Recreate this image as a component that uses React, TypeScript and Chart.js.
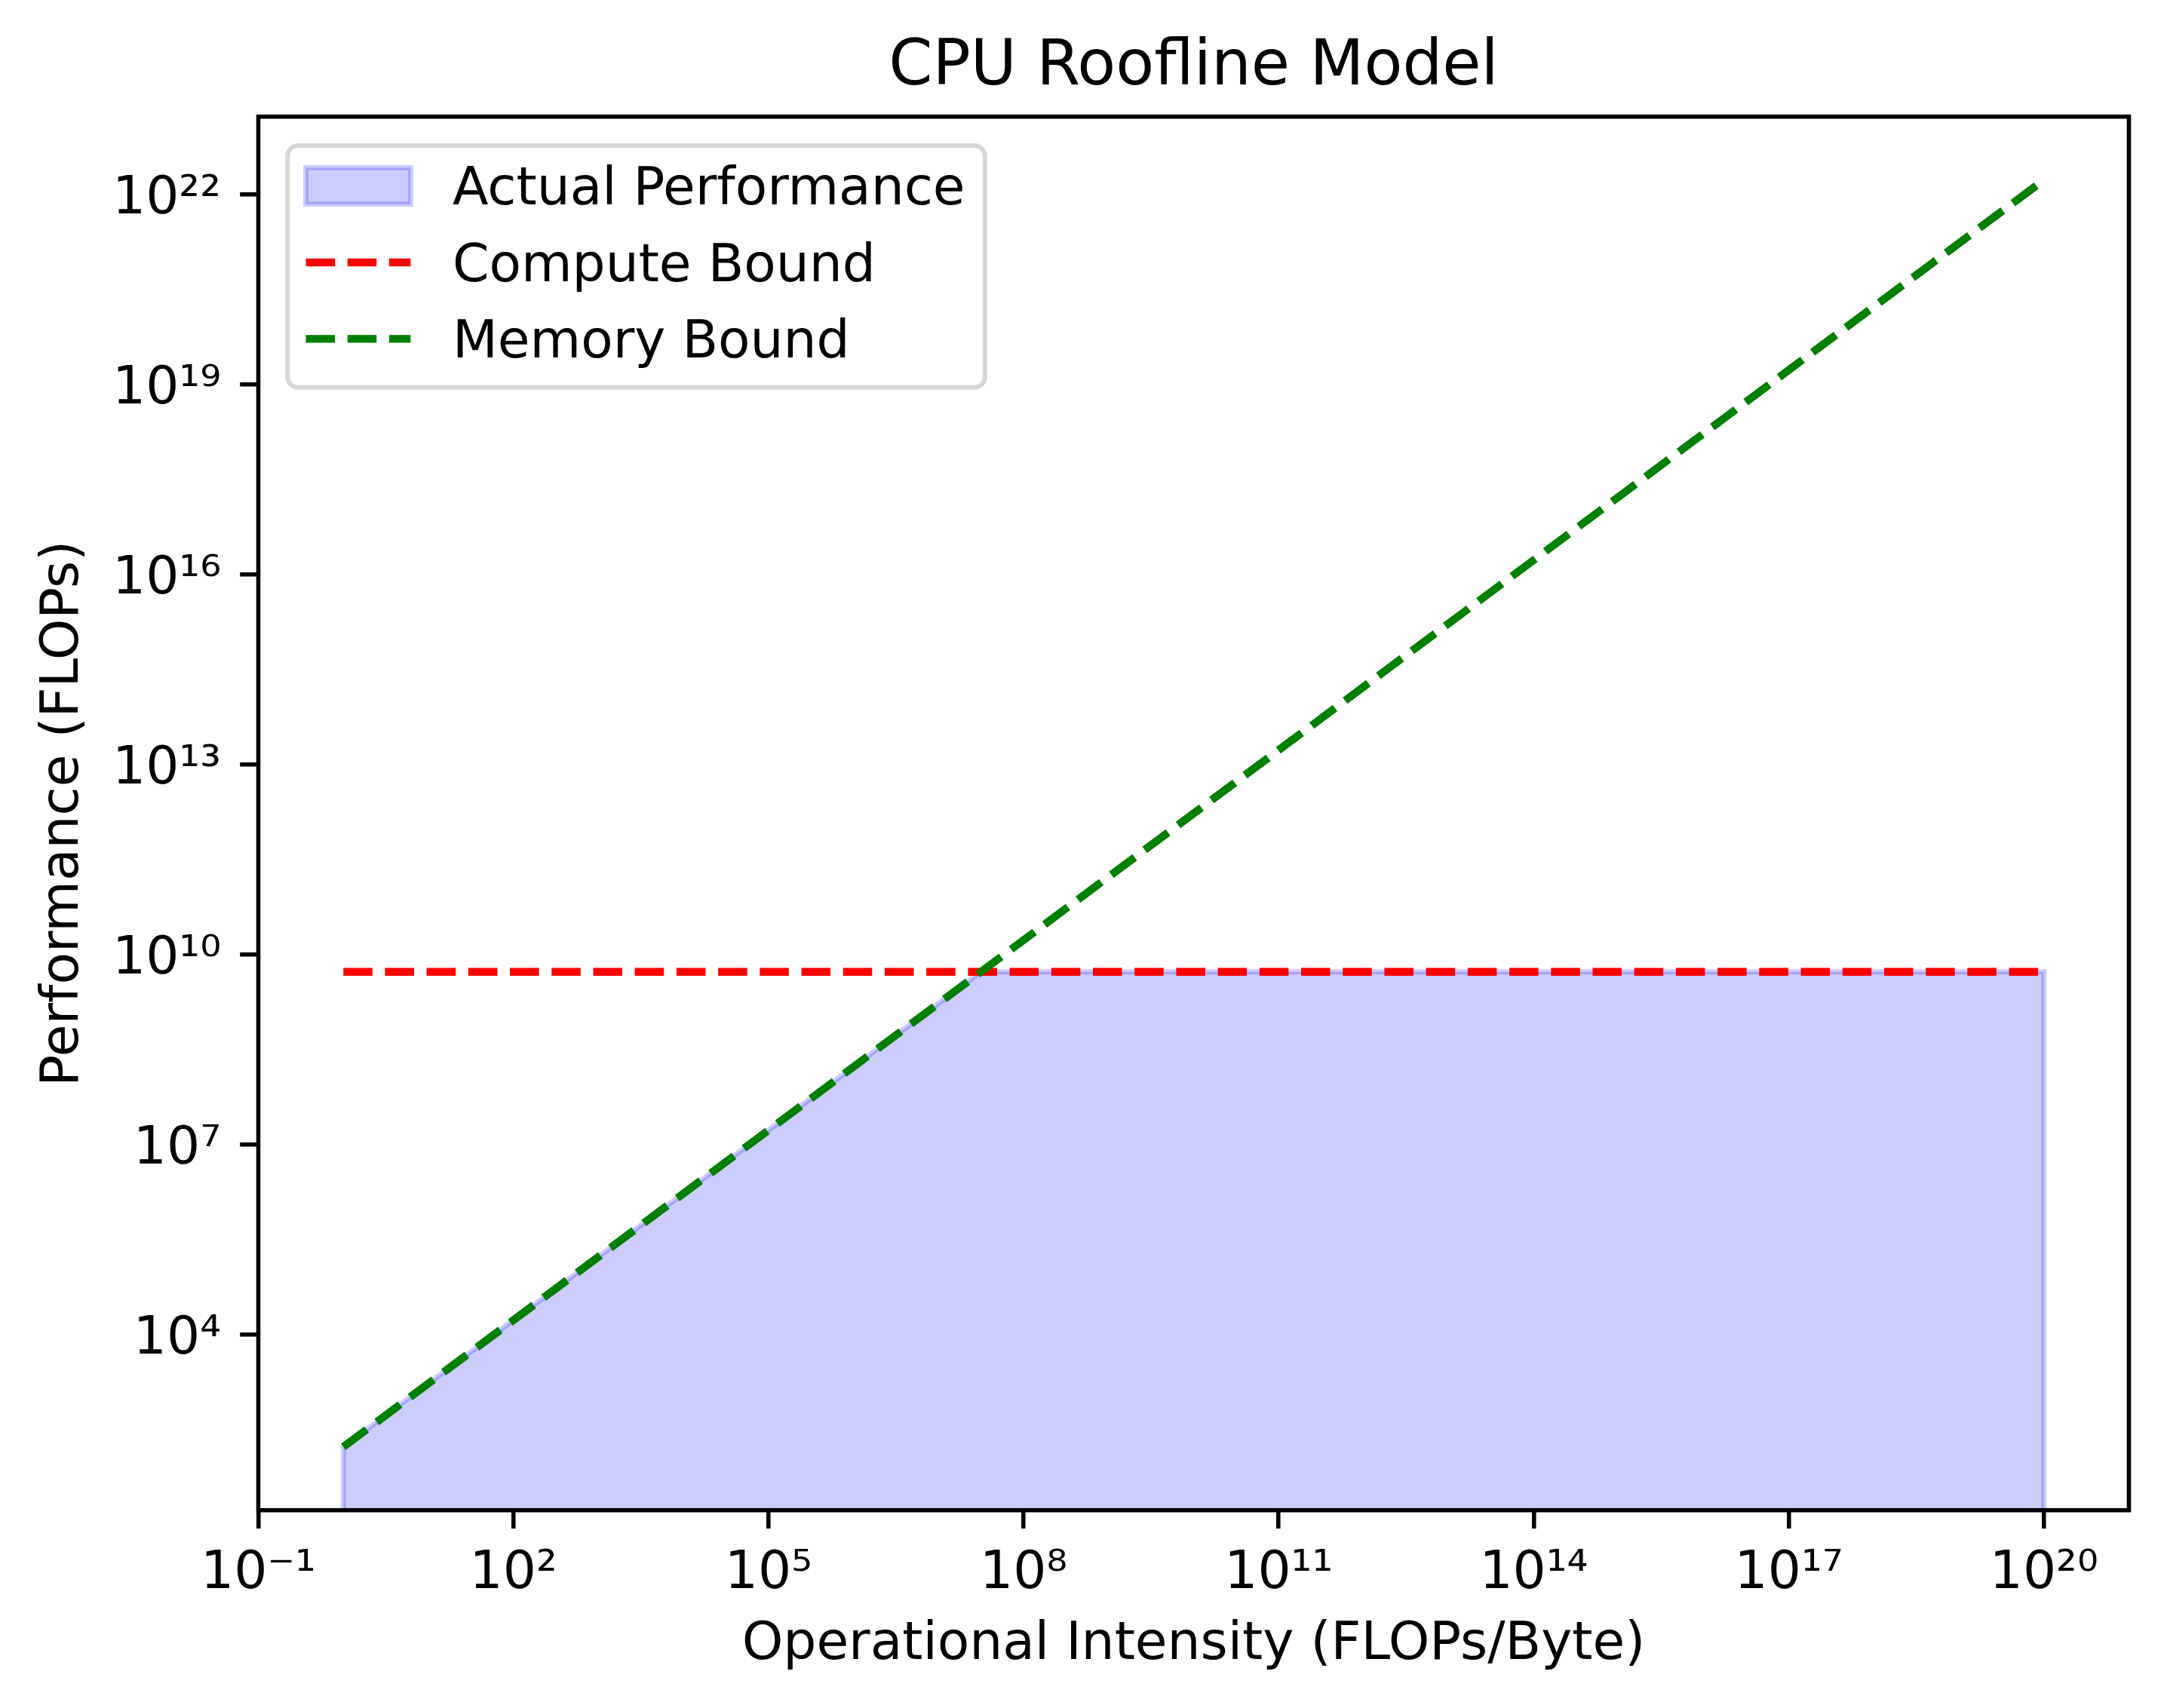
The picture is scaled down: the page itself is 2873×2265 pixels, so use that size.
import React, { useEffect, useRef } from "react";
import { Chart, registerables } from "chart.js";

Chart.register(...registerables);

// ---------- Data ----------
const TITLE = "CPU Roofline Model";
const X_LABEL = "Operational Intensity (FLOPs/Byte)";
const Y_LABEL = "Performance (FLOPs)";
const legendLabels = ["Actual Performance", "Compute Bound", "Memory Bound"];

// operational intensity end points (FLOPs/Byte)
const intensity = [1, 1e20];
// compute roof (FLOPs)
const computeBound = [5.3e9, 5.3e9];
// memory roof (FLOPs)
const memoryBound = [168, 1.68e22];
// attainable performance outline (fill reaches down to the zero floor)
const actualX = [1, 1, 3.155e7, 1e20, 1e20];
const actualY = [1, 168, 5.3e9, 5.3e9, 1];

const xTicks = [1e-1, 1e2, 1e5, 1e8, 1e11, 1e14, 1e17, 1e20];
const yTicks = [1e4, 1e7, 1e10, 1e13, 1e16, 1e19, 1e22];
const xLimits = [1e-1, 1e21];
const yLimits = [16.8, 1.68e23];

// ---------- Styling ----------
const PT = 500 / 72;
const FAMILY = "'DejaVu Sans', sans-serif";
const FS = 10 * PT;
const W = 2873;
const H = 2265;

const SUP: Record<string, string> = {
  "-": "\u207B", "0": "\u2070", "1": "\u00B9", "2": "\u00B2", "3": "\u00B3",
  "4": "\u2074", "5": "\u2075", "6": "\u2076", "7": "\u2077", "8": "\u2078", "9": "\u2079",
};
const pow10Label = (v: number) => {
  const e = Math.round(Math.log10(v));
  return "10" + String(e).split("").map((c) => SUP[c] || c).join("");
};

const framePlugin = {
  id: "frameAndLegend",
  beforeDraw(chart: any) {
    const ctx = chart.ctx;
    ctx.save();
    ctx.fillStyle = "#ffffff";
    ctx.fillRect(0, 0, chart.width, chart.height);
    ctx.restore();
  },
  afterDatasetsDraw(chart: any) {
    const ctx = chart.ctx;
    const a = chart.chartArea;
    ctx.save();
    // spines
    ctx.strokeStyle = "#000000";
    ctx.lineWidth = 0.8 * PT;
    ctx.lineJoin = "miter";
    ctx.strokeRect(a.left, a.top, a.right - a.left, a.bottom - a.top);

    // legend frame
    const fx = a.left + 38.8;
    const fy = a.top + 38.3;
    const fw = 924.5;
    const fh = 320.7;
    const r = 14;
    ctx.beginPath();
    ctx.moveTo(fx + r, fy);
    ctx.lineTo(fx + fw - r, fy);
    ctx.arcTo(fx + fw, fy, fx + fw, fy + r, r);
    ctx.lineTo(fx + fw, fy + fh - r);
    ctx.arcTo(fx + fw, fy + fh, fx + fw - r, fy + fh, r);
    ctx.lineTo(fx + r, fy + fh);
    ctx.arcTo(fx, fy + fh, fx, fy + fh - r, r);
    ctx.lineTo(fx, fy + r);
    ctx.arcTo(fx, fy, fx + r, fy, r);
    ctx.closePath();
    ctx.fillStyle = "rgba(255,255,255,0.8)";
    ctx.fill();
    ctx.strokeStyle = "rgba(204,204,204,0.8)";
    ctx.lineWidth = 1.0 * PT * 0.85;
    ctx.stroke();

    const hx0 = fx + 24.2;
    const hx1 = hx0 + 2 * FS;
    const rowY = [fy + 53.6, fy + 155.0, fy + 256.4];
    const textX = hx1 + 0.8 * FS;

    // patch handle
    const ph = 0.7 * FS;
    ctx.fillStyle = "rgba(0,0,255,0.2)";
    ctx.fillRect(hx0, rowY[0] - ph / 2, hx1 - hx0, ph);
    ctx.strokeStyle = "rgba(0,0,255,0.2)";
    ctx.lineWidth = 1.0 * PT;
    ctx.strokeRect(hx0, rowY[0] - ph / 2, hx1 - hx0, ph);

    // line handles
    const colors = ["", "red", "green"];
    for (let i = 1; i < 3; i++) {
      ctx.beginPath();
      ctx.setLineDash([5.55 * PT, 2.4 * PT]);
      ctx.lineCap = "butt";
      ctx.strokeStyle = colors[i];
      ctx.lineWidth = 1.5 * PT;
      ctx.moveTo(hx0, rowY[i]);
      ctx.lineTo(hx1, rowY[i]);
      ctx.stroke();
    }
    ctx.setLineDash([]);

    // legend text
    ctx.fillStyle = "#000000";
    ctx.font = `${FS}px ${FAMILY}`;
    ctx.textAlign = "left";
    ctx.textBaseline = "alphabetic";
    for (let i = 0; i < 3; i++) {
      ctx.fillText(legendLabels[i], textX, rowY[i] + 24.6);
    }
    ctx.restore();
  },
};

export default function App() {
  const canvasRef = useRef<HTMLCanvasElement | null>(null);

  useEffect(() => {
    const canvas = canvasRef.current;
    if (!canvas) return;

    const tickFont = { family: FAMILY, size: FS, weight: "normal" as const, lineHeight: 1.2 };
    const gridOpts = {
      display: true,
      drawOnChartArea: false,
      drawTicks: true,
      tickLength: 3.5 * PT,
      tickWidth: 0.8 * PT,
      tickColor: "#000000",
      color: "#000000",
      lineWidth: 0.8 * PT,
    };

    const chart = new Chart(canvas, {
      type: "line",
      data: {
        datasets: [
          {
            label: legendLabels[0],
            data: actualX.map((x, i) => ({ x, y: actualY[i] })),
            borderColor: "rgba(0,0,255,0.2)",
            backgroundColor: "rgba(0,0,255,0.2)",
            borderWidth: 1.0 * PT,
            fill: "start",
            pointRadius: 0,
            tension: 0,
            clip: 0,
            order: 3,
          },
          {
            label: legendLabels[1],
            data: intensity.map((x, i) => ({ x, y: computeBound[i] })),
            borderColor: "red",
            backgroundColor: "red",
            borderWidth: 1.5 * PT,
            borderDash: [5.55 * PT, 2.4 * PT],
            borderCapStyle: "butt",
            fill: false,
            pointRadius: 0,
            tension: 0,
            order: 2,
          },
          {
            label: legendLabels[2],
            data: intensity.map((x, i) => ({ x, y: memoryBound[i] })),
            borderColor: "green",
            backgroundColor: "green",
            borderWidth: 1.5 * PT,
            borderDash: [5.55 * PT, 2.4 * PT],
            borderCapStyle: "butt",
            fill: false,
            pointRadius: 0,
            tension: 0,
            order: 1,
          },
        ],
      },
      options: {
        responsive: false,
        maintainAspectRatio: false,
        animation: false,
        devicePixelRatio: 1,
        events: [],
        layout: { padding: { left: 0, top: 0, right: 50.5, bottom: 0 } },
        plugins: {
          legend: { display: false },
          tooltip: { enabled: false },
          title: {
            display: true,
            fullSize: false,
            text: TITLE,
            color: "#000000",
            font: { family: FAMILY, size: 12 * PT, weight: "normal", lineHeight: 1.2 },
            padding: { top: 40.3, bottom: 14.4 },
          },
        },
        scales: {
          x: {
            type: "logarithmic",
            position: "bottom",
            min: xLimits[0],
            max: xLimits[1],
            bounds: "data",
            afterBuildTicks: (axis: any) => {
              axis.ticks = xTicks.map((v) => ({ value: v, major: false }));
            },
            afterFit: (scale: any) => {
              scale.height = H - 2002.7;
            },
            grid: gridOpts,
            border: { display: false },
            ticks: {
              callback: (v: any) => pow10Label(Number(v)),
              font: tickFont,
              color: "#000000",
              padding: 19.2,
              autoSkip: false,
              maxRotation: 0,
              minRotation: 0,
              major: { enabled: false },
            },
            title: {
              display: true,
              text: X_LABEL,
              color: "#000000",
              font: tickFont,
              padding: { top: 0, bottom: 41.6 },
            },
          },
          y: {
            type: "logarithmic",
            position: "left",
            min: yLimits[0],
            max: yLimits[1],
            bounds: "data",
            afterBuildTicks: (axis: any) => {
              axis.ticks = yTicks.map((v) => ({ value: v, major: false }));
            },
            afterFit: (scale: any) => {
              scale.width = 342.5;
            },
            grid: gridOpts,
            border: { display: false },
            ticks: {
              callback: (v: any) => pow10Label(Number(v)),
              font: tickFont,
              color: "#000000",
              padding: 25.2,
              labelOffset: 7,
              autoSkip: false,
              major: { enabled: false },
            },
            title: {
              display: true,
              text: Y_LABEL,
              color: "#000000",
              font: tickFont,
              padding: { top: 43.0, bottom: 0 },
            },
          },
        },
      } as any,
      plugins: [framePlugin],
    });

    return () => chart.destroy();
  }, []);

  return (
    <div style={{ position: "absolute", left: 0, top: 0, width: W, height: H, background: "#fff" }}>
      <canvas ref={canvasRef} width={W} height={H} style={{ display: "block", width: W, height: H }} />
    </div>
  );
}
